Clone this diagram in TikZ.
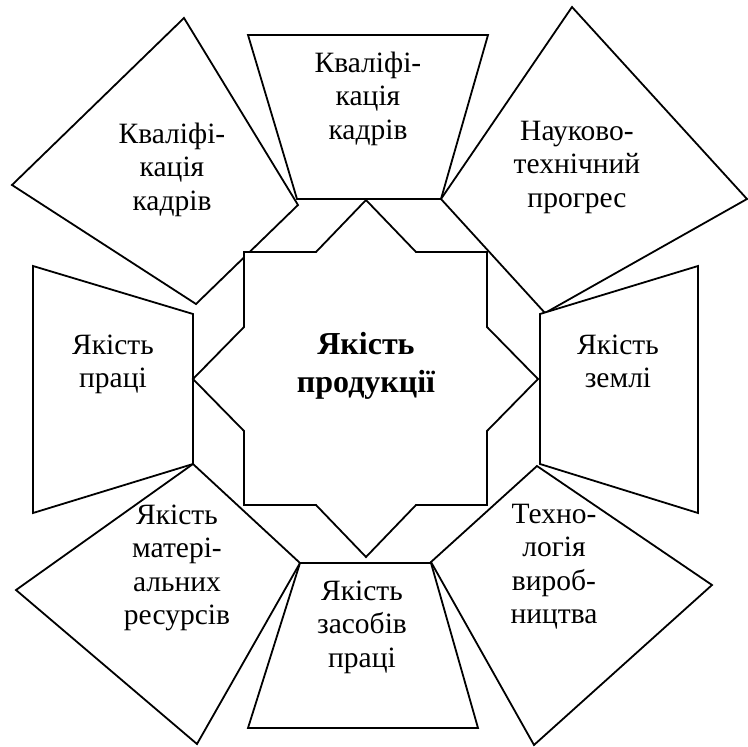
\documentclass[tikz,border=0pt]{standalone}
\usepackage{fontspec}
\setmainfont{Liberation Serif}
\tikzset{
  shapebox/.style={draw=black, line width=1.8pt, fill=white, line join=miter},
  lbl/.style={anchor=base, text width=220pt, align=center, inner sep=0pt,
    font=\fontsize{29.5}{33.5}\selectfont},
  lblbold/.style={lbl, font=\fontsize{32}{38}\selectfont\bfseries}
}
\begin{document}
\begin{tikzpicture}[x=1pt,y=-1pt]
\useasboundingbox (0,0) rectangle (748,747);
% upper-left diamond
\draw[shapebox] (184,18) -- (298,205) -- (196,304) -- (12,185) -- cycle;
% top trapezoid
\draw[shapebox] (248,35) -- (488,35) -- (441,199) -- (297,199) -- cycle;
% upper-right diamond
\draw[shapebox] (572,7) -- (747,199) -- (545,313) -- (441,199) -- cycle;
% left trapezoid
\draw[shapebox] (33,266) -- (193,314) -- (193,464) -- (33,513) -- cycle;
% right trapezoid
\draw[shapebox] (698,266) -- (540,314) -- (540,464) -- (698,513) -- cycle;
% bottom-left diamond
\draw[shapebox] (193,464) -- (300,563) -- (197,744) -- (16,590) -- cycle;
% bottom-right diamond
\draw[shapebox] (537,466) -- (712,585) -- (534,745) -- (431,562) -- cycle;
% bottom trapezoid
\draw[shapebox] (300,563) -- (431,563) -- (478,728) -- (248,728) -- cycle;
% central star
\draw[shapebox] (366,200) -- (416,252) -- (487,252) -- (487,327) -- (538,379)
  -- (487,431) -- (487,505) -- (416,505) -- (366,557) -- (316,505) -- (244,505)
  -- (244,431) -- (193,379) -- (244,327) -- (244,252) -- (316,252) -- cycle;
% labels
\node[lbl] (ul) at (172,143) {Кваліфі-\\кація\\кадрів};
\node[lbl] (tc) at (368,72) {Кваліфі-\\кація\\кадрів};
\node[lbl] (ur) at (577,140) {Науково-\\технічний\\прогрес};
\node[lbl] (ml) at (113,354) {Якість\\праці};
\node[lblbold] (mc) at (366,354) {Якість\\продукції};
\node[lbl] (mr) at (618,354) {Якість\\землі};
\node[lbl] (bl) at (177,524) {Якість\\матері-\\альних\\ресурсів};
\node[lbl] (br) at (554,523) {Техно-\\логія\\вироб-\\ництва};
\node[lbl] (bc) at (362,600) {Якість\\засобів\\праці};
\end{tikzpicture}
\end{document}
